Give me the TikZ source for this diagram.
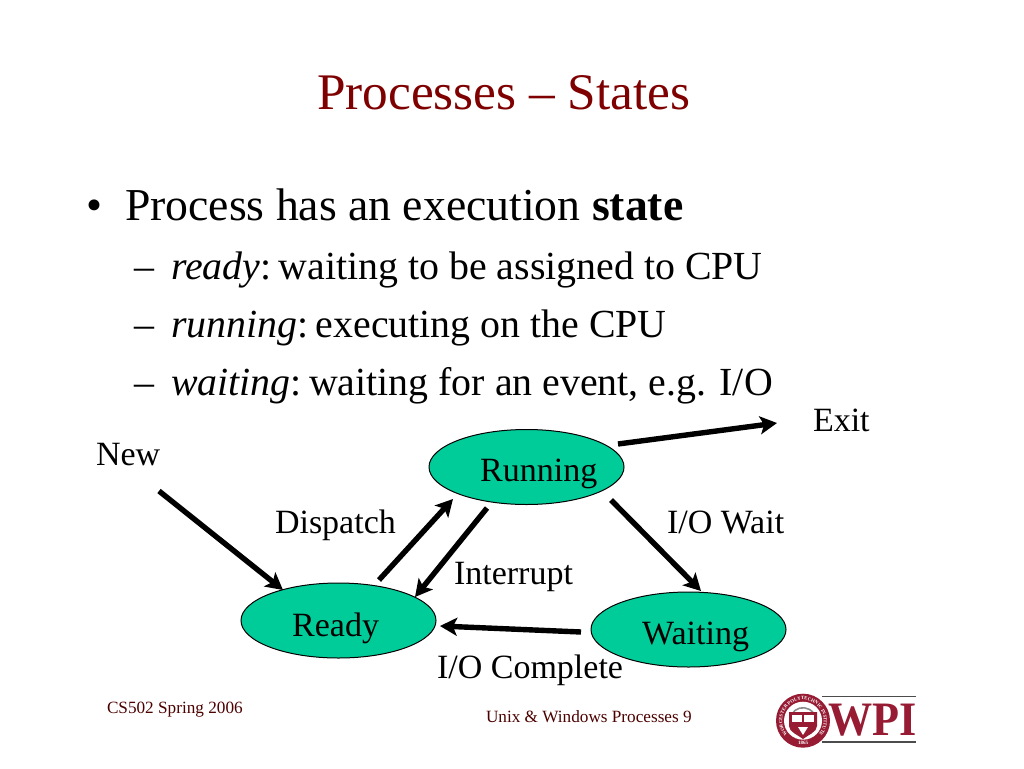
\documentclass[tikz,border=0pt]{standalone}
\usepackage{fontspec}
\setmainfont{Liberation Serif}
\usetikzlibrary{shapes.geometric,arrows.meta,decorations.text}
\definecolor{wpired}{HTML}{7F0000}
\definecolor{logored}{HTML}{961B33}
\definecolor{statefill}{HTML}{00CC99}
\newcommand{\fs}[1]{\fontsize{#1}{#1}\selectfont}
\newcommand{\tightcolon}{:\kern-2.5pt\ }
\tikzset{
  txt/.style={anchor=base west,inner sep=0pt,outer sep=0pt,text=black},
  titletxt/.style={txt,text=wpired,font=\fs{51.3}},
  bodytxt/.style={txt,font=\fs{45.7}},
  subtxt/.style={txt,font=\fs{39.85}},
  difftxt/.style={txt,font=\fs{34}},
  foot/.style={txt,font=\fs{17.2},text=wpired!60!black},
  stateell/.style={ellipse,draw=black,line width=1pt,fill=statefill,inner sep=0pt,minimum width=195pt,minimum height=75pt},
  statetxt/.style={anchor=base west,inner sep=0pt,font=\fs{34}},
  flow/.style={line width=5.4pt,-{Stealth[length=17pt,width=18pt,inset=4pt]}},
}
\begin{document}
\begin{tikzpicture}[x=1pt,y=-1pt]
\useasboundingbox (0,0) rectangle (1024,768);
\fill[white] (0,0) rectangle (1024,768);
\node[titletxt] (title) at (317,109) {Processes – States};
\node[bodytxt] (b0) at (86,220) {•};
\node[bodytxt] (b1) at (125,220) {Process has an execution \textbf{state}};
\node[subtxt] (d1) at (134,279) {–};
\node[subtxt] (s1) at (171,279) {\textit{ready}\tightcolon waiting to be assigned to CPU};
\node[subtxt] (d2) at (134,337) {–};
\node[subtxt] (s2) at (171,337) {\textit{running}\tightcolon executing on the CPU};
\node[subtxt] (d3) at (134,395) {–};
\node[subtxt] (s3) at (171,395) {\textit{waiting}\tightcolon waiting for an event, e.g. I/O};
\node[stateell] (run) at (526.5,467) {};
\node[stateell] (rdy) at (338.5,620.5) {};
\node[stateell] (wai) at (688.5,629.5) {};
\node[statetxt] (runT) at (480,481) {Running};
\node[statetxt] (rdyT) at (292,636) {Ready};
\node[statetxt] (waiT) at (642,644) {Waiting};
\node[difftxt] (exit) at (813,431) {Exit};
\node[difftxt] (new) at (96,465) {New};
\node[difftxt] (disp) at (275,533) {Dispatch};
\node[difftxt] (iow) at (667,533) {I/O Wait};
\node[difftxt] (intr) at (454,584) {Interrupt};
\node[difftxt] (ioc) at (437,678) {I/O Complete};
\coordinate (newS) at (159,491);
\coordinate (newE) at (283,590);
\coordinate (dispS) at (379,580);
\coordinate (dispE) at (453,499);
\coordinate (intS) at (487,508);
\coordinate (intE) at (415,597);
\coordinate (waitS) at (611,500);
\coordinate (waitE) at (701,591);
\coordinate (compS) at (581,632);
\coordinate (compE) at (440,626);
\coordinate (exitS) at (618,444);
\coordinate (exitE) at (777,423);
\draw[flow] (newS) -- (newE);
\draw[flow] (dispS) -- (dispE);
\draw[flow] (intS) -- (intE);
\draw[flow] (waitS) -- (waitE);
\draw[flow] (compS) -- (compE);
\draw[flow] (exitS) -- (exitE);
\node[foot] (f1) at (107,713) {CS502 Spring 2006};
\node[foot] (f2) at (486,722) {Unix \& Windows Processes 9};
% logo
\fill[logored] (803,720.7) circle (27);
\fill[white] (803,720.7) circle (19);
\begin{scope}[shift={(803,720.7)},y=1pt]
\path[decorate,decoration={text along path,text align=center,
  text={|\fontsize{4.8}{4.8}\selectfont\bfseries\color{white}|WORCESTER POLYTECHNIC INSTITUTE}}]
  (225:20.8) arc[start angle=225,end angle=-45,radius=20.8];
\draw[black!45,line width=1.6pt] (150:13) arc[start angle=150,end angle=30,radius=13];
\end{scope}
\node[inner sep=0pt,font=\fontsize{5}{5}\selectfont\bfseries,text=white] (yr) at (803,743) {1865};
\fill[logored] (789,712) -- (817,712) -- (817,726) .. controls (817,732) and (808,735) .. (803,739) .. controls (798,735) and (789,732) .. (789,726) -- cycle;
\fill[white] (792,714.5) rectangle (802,721.5);
\fill[white] (804,714.5) rectangle (814,721.5);
\fill[white] (798,727) -- (808,727) -- (803,735) -- cycle;
\fill[black!70] (822,695.5) rectangle (916,697);
\fill[black!70] (822,741) rectangle (916,743);
\node[txt,font=\fs{48}\bfseries,text=logored,xscale=.92] (wpi) at (828,735) {WPI};
\end{tikzpicture}
\end{document}
